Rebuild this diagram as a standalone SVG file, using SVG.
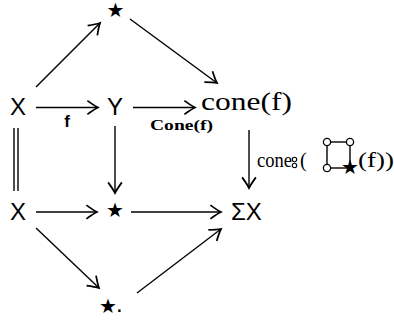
<svg xmlns="http://www.w3.org/2000/svg" width="394" height="320" viewBox="0 0 394 320">
<style>
.obj{font-family:"Liberation Sans","DejaVu Sans",sans-serif;font-size:24px;fill:#000}
.star{font-family:"DejaVu Sans",sans-serif;font-size:20px;fill:#000}
.lser{font-family:"Liberation Serif","DejaVu Serif",serif;fill:#000}
.lbl{font-family:"Liberation Sans","DejaVu Sans",sans-serif;font-size:17px;font-weight:bold;fill:#000}
.frak{font-family:"Liberation Serif","DejaVu Serif",serif;font-size:15px;font-weight:bold;fill:#000}
.ar{stroke:#000;stroke-width:1.4;fill:none;marker-end:url(#ah)}
.ln{stroke:#000;stroke-width:1.4;fill:none}
.pc{stroke:#000;stroke-width:1.3;fill:#fff}
</style>
<defs>
<marker id="ah" markerUnits="userSpaceOnUse" markerWidth="20" markerHeight="20" refX="0" refY="0" viewBox="-10 -8 12 16" orient="auto" overflow="visible">
<path d="M-8.5,-5.5 Q-3,-1.5 0,0 Q-3,1.5 -8.5,5.5" fill="none" stroke="#000" stroke-width="1.4"/>
</marker>
</defs>
<rect width="394" height="320" fill="#fff"/>
<g id="connectors">
<line class="ar" x1="36" y1="87" x2="100" y2="23"/>
<line class="ar" x1="130" y1="19" x2="217" y2="83"/>
<line class="ar" x1="36" y1="107.5" x2="98" y2="107.5"/>
<line class="ar" x1="133" y1="107.5" x2="195" y2="107.5"/>
<line class="ln" x1="14" y1="128" x2="14" y2="191"/>
<line class="ln" x1="18" y1="128" x2="18" y2="191"/>
<line class="ar" x1="115" y1="126" x2="115" y2="193"/>
<line class="ar" x1="249" y1="130" x2="249" y2="188"/>
<line class="ar" x1="36" y1="212" x2="97" y2="212"/>
<line class="ar" x1="131" y1="212" x2="221" y2="212"/>
<line class="ar" x1="36" y1="228" x2="99" y2="288"/>
<line class="ar" x1="137" y1="293" x2="221" y2="229"/>
<text class="lbl" x="67" y="127" text-anchor="middle">f</text>
<text class="frak" x="150" y="130" textLength="63" lengthAdjust="spacingAndGlyphs">Cone(f)</text>
<g id="vlabel">
<text class="lser" x="257" y="167" font-size="20" textLength="35" lengthAdjust="spacingAndGlyphs">cone</text>
<circle cx="294.5" cy="159.5" r="2.2" fill="none" stroke="#000" stroke-width="1.1"/>
<circle cx="294.5" cy="165.5" r="2.2" fill="none" stroke="#000" stroke-width="1.1"/>
<text class="lser" x="300" y="167" font-size="20">(</text>
<line class="ln" x1="327" y1="142" x2="350" y2="142" stroke-width="1.3"/>
<line class="ln" x1="327" y1="142" x2="327" y2="168" stroke-width="1.3"/>
<line class="ln" x1="350" y1="142" x2="350" y2="168" stroke-width="1.3"/>
<line class="ln" x1="327" y1="168" x2="350" y2="168" stroke-width="1.3"/>
<circle class="pc" cx="327" cy="142" r="3.6"/>
<circle class="pc" cx="350" cy="142" r="3.6"/>
<circle class="pc" cx="327" cy="168" r="3.6"/>
<text class="star" x="350" y="173.5" font-size="16" text-anchor="middle">★</text>
<text class="lser" x="358" y="167" font-size="20" textLength="36" lengthAdjust="spacingAndGlyphs">(f))</text>
</g>
</g>
<g id="n-top-star"><text class="star" x="115.5" y="16.5" text-anchor="middle">★</text></g>
<g id="n-X1"><text class="obj" x="10" y="115">X</text></g>
<g id="n-Y"><text class="obj" x="107" y="115">Y</text></g>
<g id="n-cone"><text class="lser" x="201" y="110" font-size="26" textLength="91" lengthAdjust="spacingAndGlyphs">cone(f)</text></g>
<g id="n-X2"><text class="obj" x="10" y="220">X</text></g>
<g id="n-mid-star"><text class="star" x="115" y="217" text-anchor="middle">★</text></g>
<g id="n-SX"><text class="obj" x="231" y="220">ΣX</text></g>
<g id="n-bot-star"><text class="star" x="108" y="313" text-anchor="middle">★</text><text class="obj" x="116" y="312" font-size="20">.</text></g>
</svg>
